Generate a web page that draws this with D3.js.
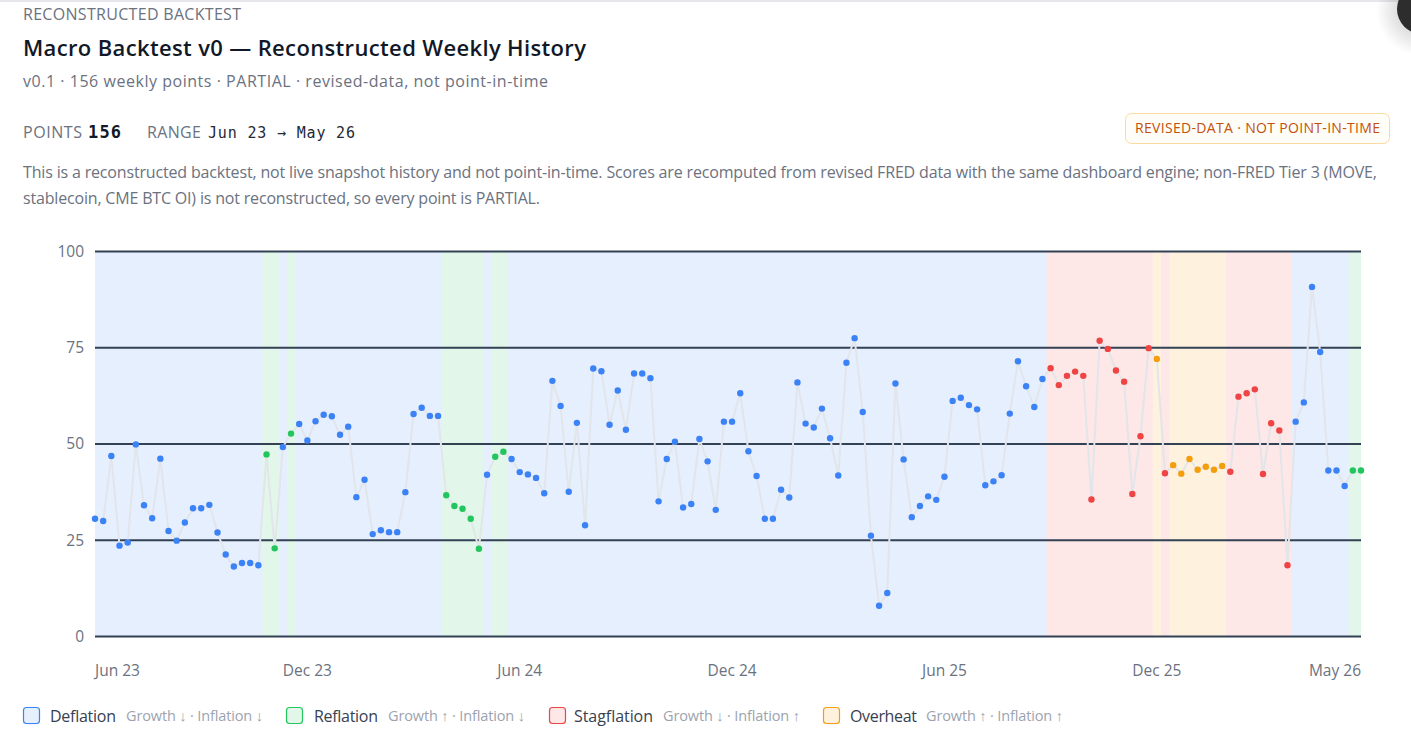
<!DOCTYPE html>
<html><head><meta charset="utf-8">
<script src="https://cdn.jsdelivr.net/npm/d3@7"></script>
<style>
html,body{margin:0;padding:0;background:#fff;overflow:hidden;}
svg{display:block;}
text{font-family:"Segoe UI","Open Sans",sans-serif;}
.mono{font-family:Consolas,"DejaVu Sans Mono","Liberation Mono",monospace;}
</style></head><body>
<svg id="c" width="1411" height="736"></svg>
<script>
// ---- data ----
const scores = [
 30.6,30.0,46.9,23.6,24.4,49.9,34.1,30.7,46.2,27.4,24.9,29.6,33.3,33.3,34.2,27.0,21.3,18.2,19.1,19.1,18.5,47.3,22.9,49.2,52.7,55.2,
 50.9,55.9,57.6,57.2,52.4,54.5,36.2,40.7,26.6,27.6,27.1,27.1,37.5,57.8,59.4,57.3,57.3,36.7,33.9,33.2,30.6,22.8,42.0,46.7,48.0,46.1,
 42.7,42.1,41.2,37.2,66.4,59.9,37.6,55.5,28.9,69.6,68.9,55.0,63.9,53.7,68.3,68.3,67.1,35.1,46.1,50.6,33.5,34.4,51.3,45.5,32.9,55.8,55.8,
 63.2,48.1,41.7,30.6,30.6,38.1,36.1,66.0,55.3,54.3,59.2,51.5,41.8,71.1,77.5,58.3,26.2,8.0,11.3,65.7,46.0,31.0,33.9,36.4,35.5,
 41.5,61.2,62.0,60.1,59.0,39.3,40.3,41.9,57.9,71.5,65.0,59.6,66.9,69.7,65.3,67.7,68.8,67.7,35.6,76.8,74.7,69.1,66.2,37.0,52.0,74.9,72.1,
 42.4,44.5,42.3,46.1,43.3,44.1,43.3,44.3,42.8,62.3,63.2,64.2,42.2,55.4,53.5,18.5,55.8,60.8,90.8,73.9,43.1,43.1,39.1,43.1,43.1
];
// regime of each weekly point, as consecutive runs [code, number of weeks]
const regimeRuns = [
 ["D",21],["R",2],["D",1],["R",1],["D",18],["R",5],["D",1],["R",2],["D",66],
 ["S",13],["O",1],["S",1],["O",7],["S",8],["D",7],["R",2]
];
const tickIndex  = [0,26,52,78,104,130,155];
const tickLabels = ["Jun 23","Dec 23","Jun 24","Dec 24","Jun 25","Dec 25","May 26"];
const yTicks = [0,25,50,75,100];
const legendKeys   = ["D","R","S","O"];
const legendLabels = ["Deflation","Reflation","Stagflation","Overheat"];
const legendDescs  = ["Growth ↓ · Inflation ↓","Growth ↑ · Inflation ↓","Growth ↓ · Inflation ↑","Growth ↑ · Inflation ↑"];

// ---- styles ----
const COLORS = {
 D:{dot:"#3b82f6", band:"rgba(59,130,246,0.13)"},
 R:{dot:"#22c55e", band:"rgba(34,197,94,0.13)"},
 S:{dot:"#ef4444", band:"rgba(239,68,68,0.13)"},
 O:{dot:"#f59e0b", band:"rgba(245,158,11,0.13)"}
};

const svg = d3.select("#c");

function fit(sel, target){
  const n = sel.text().length;
  const w = sel.node().getComputedTextLength();
  if (n > 1) sel.attr("letter-spacing", ((target - w) / (n - 1)).toFixed(3));
}

// page decoration
svg.append("rect").attr("x",0).attr("y",0).attr("width",1411).attr("height",2).attr("fill","#e5e7eb");
const defs = svg.append("defs");
const rg = defs.append("radialGradient").attr("id","sh");
rg.append("stop").attr("offset","55%").attr("stop-color","#000").attr("stop-opacity",0.12);
rg.append("stop").attr("offset","100%").attr("stop-color","#000").attr("stop-opacity",0);
svg.append("circle").attr("cx",1422).attr("cy",10).attr("r",46).attr("fill","url(#sh)");
svg.append("circle").attr("cx",1422).attr("cy",9).attr("r",25).attr("fill","#2d2d2d");

// header
fit(svg.append("text").attr("x",23).attr("y",20).attr("font-size",16).attr("fill","#6b7280").text("RECONSTRUCTED BACKTEST"),218);
fit(svg.append("text").attr("x",23).attr("y",56).attr("font-size",22).attr("font-weight",600).attr("fill","#111827")
   .text("Macro Backtest v0 — Reconstructed Weekly History"),563);
fit(svg.append("text").attr("x",23).attr("y",87).attr("font-size",16).attr("fill","#6b7280")
   .text("v0.1 · 156 weekly points · PARTIAL · revised-data, not point-in-time"),525);

fit(svg.append("text").attr("x",23).attr("y",138).attr("font-size",16).attr("fill","#6b7280").text("POINTS"),59);
fit(svg.append("text").attr("class","mono").attr("x",88).attr("y",138).attr("font-size",17).attr("font-weight",700).attr("fill","#111827").text("156"),33);
fit(svg.append("text").attr("x",147).attr("y",138).attr("font-size",16).attr("fill","#6b7280").text("RANGE"),54);
fit(svg.append("text").attr("class","mono").attr("x",208).attr("y",138).attr("font-size",15).attr("fill","#1f2937").text("Jun 23 → May 26"),147);

svg.append("rect").attr("x",1125.5).attr("y",113.5).attr("width",264).attr("height",30).attr("rx",6)
   .attr("fill","#fffdf7").attr("stroke","#fcd9a0").attr("stroke-width",1);
fit(svg.append("text").attr("x",1135).attr("y",133).attr("font-size",14).attr("fill","#c2510c")
   .text("REVISED-DATA · NOT POINT-IN-TIME"),245);

fit(svg.append("text").attr("x",23).attr("y",178).attr("font-size",16).attr("fill","#6b7280")
   .text("This is a reconstructed backtest, not live snapshot history and not point-in-time. Scores are recomputed from revised FRED data with the same dashboard engine; non-FRED Tier 3 (MOVE,"),1354);
fit(svg.append("text").attr("x",23).attr("y",204).attr("font-size",16).attr("fill","#6b7280")
   .text("stablecoin, CME BTC OI) is not reconstructed, so every point is PARTIAL."),517);

// ---- chart ----
const N = scores.length;
const x = d3.scaleLinear().domain([0, N-1]).range([95, 1361]);
const y = d3.scaleLinear().domain([0, 100]).range([636.5, 251.5]);

const regime = [];
regimeRuns.forEach(([k,n]) => { for (let j=0;j<n;j++) regime.push(k); });

// background bands (one per run)
const bands = [];
let s = 0;
regimeRuns.forEach(([k,n]) => { bands.push({k, s, e:s+n-1}); s += n; });
svg.append("g").selectAll("rect").data(bands).join("rect")
  .attr("x", d => Math.max(x(d.s-0.5), x(0)))
  .attr("width", d => Math.min(x(d.e+0.5), x(N-1)) - Math.max(x(d.s-0.5), x(0)))
  .attr("y", y(100)).attr("height", y(0)-y(100))
  .attr("fill", d => COLORS[d.k].band);

// gridlines
svg.append("g").selectAll("line").data(yTicks).join("line")
  .attr("x1", x(0)).attr("x2", x(N-1))
  .attr("y1", d => y(d)).attr("y2", d => y(d))
  .attr("stroke","#334155").attr("stroke-width",2);

// y labels
svg.append("g").selectAll("text").data(yTicks).join("text")
  .attr("x", 84).attr("y", d => y(d)).attr("dy","0.35em")
  .attr("text-anchor","end").attr("font-size",15.5).attr("fill","#6b7280").text(d => d);

// x labels
svg.append("g").selectAll("text").data(tickIndex).join("text")
  .attr("x", d => x(d)).attr("y", 675.5)
  .attr("text-anchor", (d,i) => i===0 ? "start" : (i===tickIndex.length-1 ? "end" : "middle"))
  .attr("font-size",15.5).attr("fill","#6b7280").text((d,i) => tickLabels[i]);

// line
svg.append("path").datum(scores)
  .attr("d", d3.line().x((d,i) => x(i)).y(d => y(d)))
  .attr("fill","none").attr("stroke","#e2e5ea").attr("stroke-width",2).attr("stroke-linejoin","round");

// points
svg.append("g").selectAll("circle").data(scores).join("circle")
  .attr("cx", (d,i) => x(i)).attr("cy", d => y(d)).attr("r", 3.2)
  .attr("fill", (d,i) => COLORS[regime[i]].dot);

// legend
const sqX = [23,286,549,823], lbX = [50,314,574,850], dsX = [126,388,663,926];
const lbW = [66,64,79,67];
legendKeys.forEach((k,i) => {
  svg.append("rect").attr("x", sqX[i]+0.5).attr("y", 707.5).attr("width",16).attr("height",16).attr("rx",3)
    .attr("fill", COLORS[k].band).attr("stroke", COLORS[k].dot).attr("stroke-width",1.2);
  fit(svg.append("text").attr("x", lbX[i]).attr("y", 721.5).attr("font-size",16).attr("fill","#374151").text(legendLabels[i]), lbW[i]);
  fit(svg.append("text").attr("x", dsX[i]).attr("y", 721).attr("font-size",14.5).attr("fill","#9ca3af").text(legendDescs[i]), 137);
});
</script>
</body></html>
